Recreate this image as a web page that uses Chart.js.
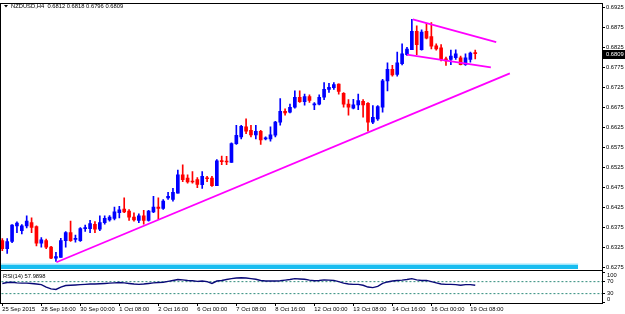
<!DOCTYPE html>
<html>
<head>
<meta charset="utf-8">
<script src="https://cdn.jsdelivr.net/npm/chart.js@4.4.1/dist/chart.umd.min.js"></script>
<style>
  html, body { margin: 0; padding: 0; background: #fff; }
  #wrap { position: relative; width: 625px; height: 314px; }
</style>
</head>
<body>
<div id="wrap"><canvas id="chart" width="625" height="314"></canvas></div>
<script>
// ─── Data (NZDUSD H4) ────────────────────────────────────────────
const opens = [
  0.6341, 0.6321, 0.6339, 0.6378, 0.6366, 0.6378, 0.6386, 0.6376, 0.6335, 0.6341,
  0.6325, 0.6297, 0.6299, 0.6341, 0.6361, 0.6344, 0.6341, 0.6371, 0.6371, 0.6382,
  0.6370, 0.6386, 0.6393, 0.6397, 0.6411, 0.6420, 0.6415, 0.6400, 0.6392, 0.6403,
  0.6392, 0.6413, 0.6425, 0.6422, 0.6448, 0.6444, 0.6460, 0.6506, 0.6498, 0.6489,
  0.6494, 0.6481, 0.6498, 0.6498, 0.6479, 0.6541, 0.6540, 0.6537, 0.6584, 0.6601,
  0.6626, 0.6617, 0.6606, 0.6615, 0.6596, 0.6596, 0.6605, 0.6638, 0.6665, 0.6663,
  0.6675, 0.6700, 0.6689, 0.6702, 0.6681, 0.6683, 0.6700, 0.6720, 0.6724, 0.6733,
  0.6710, 0.6683, 0.6673, 0.6681, 0.6690, 0.6685, 0.6638, 0.6646, 0.6675, 0.6741,
  0.6770, 0.6757, 0.6784, 0.6807, 0.6819, 0.6865, 0.6819, 0.6865, 0.6852, 0.6829,
  0.6824, 0.6796, 0.6795, 0.6799, 0.6799, 0.6782, 0.6795, 0.6812
];
const highs = [
  0.6346, 0.6346, 0.6381, 0.6388, 0.6381, 0.6403, 0.6398, 0.6378, 0.6349, 0.6345,
  0.6327, 0.6312, 0.6347, 0.6364, 0.6390, 0.6355, 0.6374, 0.6380, 0.6392, 0.6389,
  0.6403, 0.6403, 0.6404, 0.6425, 0.6427, 0.6448, 0.6419, 0.6411, 0.6408, 0.6417,
  0.6417, 0.6452, 0.6448, 0.6444, 0.6462, 0.6472, 0.6518, 0.6531, 0.6506, 0.6514,
  0.6499, 0.6514, 0.6502, 0.6502, 0.6544, 0.6553, 0.6552, 0.6586, 0.6630, 0.6630,
  0.6646, 0.6630, 0.6630, 0.6617, 0.6601, 0.6626, 0.6640, 0.6697, 0.6671, 0.6683,
  0.6716, 0.6716, 0.6708, 0.6706, 0.6687, 0.6706, 0.6737, 0.6735, 0.6737, 0.6734,
  0.6712, 0.6694, 0.6695, 0.6708, 0.6694, 0.6687, 0.6679, 0.6679, 0.6745, 0.6786,
  0.6780, 0.6813, 0.6834, 0.6825, 0.6895, 0.6879, 0.6869, 0.6885, 0.6887, 0.6834,
  0.6832, 0.6801, 0.6818, 0.6819, 0.6803, 0.6809, 0.6813, 0.6818
];
const lows = [
  0.6316, 0.6309, 0.6336, 0.6361, 0.6358, 0.6373, 0.6361, 0.6328, 0.6325, 0.6321,
  0.6296, 0.6289, 0.6299, 0.6325, 0.6339, 0.6337, 0.6339, 0.6364, 0.6361, 0.6361,
  0.6366, 0.6382, 0.6390, 0.6393, 0.6398, 0.6411, 0.6392, 0.6390, 0.6386, 0.6382,
  0.6390, 0.6411, 0.6395, 0.6419, 0.6444, 0.6440, 0.6460, 0.6489, 0.6485, 0.6485,
  0.6474, 0.6472, 0.6489, 0.6477, 0.6479, 0.6531, 0.6531, 0.6537, 0.6582, 0.6596,
  0.6609, 0.6601, 0.6596, 0.6582, 0.6593, 0.6590, 0.6601, 0.6630, 0.6655, 0.6661,
  0.6673, 0.6687, 0.6680, 0.6687, 0.6669, 0.6681, 0.6694, 0.6712, 0.6720, 0.6708,
  0.6675, 0.6655, 0.6671, 0.6669, 0.6650, 0.6615, 0.6634, 0.6642, 0.6663, 0.6716,
  0.6753, 0.6753, 0.6781, 0.6805, 0.6819, 0.6807, 0.6818, 0.6846, 0.6821, 0.6818,
  0.6791, 0.6780, 0.6782, 0.6795, 0.6781, 0.6780, 0.6788, 0.6796
];
const closes = [
  0.6321, 0.6339, 0.6380, 0.6385, 0.6378, 0.6390, 0.6374, 0.6335, 0.6343, 0.6325,
  0.6297, 0.6301, 0.6341, 0.6361, 0.6341, 0.6347, 0.6371, 0.6374, 0.6384, 0.6370,
  0.6386, 0.6397, 0.6400, 0.6413, 0.6418, 0.6413, 0.6400, 0.6393, 0.6403, 0.6392,
  0.6415, 0.6425, 0.6422, 0.6440, 0.6452, 0.6462, 0.6506, 0.6494, 0.6488, 0.6488,
  0.6482, 0.6502, 0.6496, 0.6479, 0.6541, 0.6539, 0.6538, 0.6584, 0.6605, 0.6627,
  0.6615, 0.6606, 0.6615, 0.6593, 0.6598, 0.6606, 0.6638, 0.6665, 0.6661, 0.6675,
  0.6700, 0.6689, 0.6702, 0.6692, 0.6683, 0.6700, 0.6720, 0.6725, 0.6732, 0.6715,
  0.6683, 0.6675, 0.6681, 0.6692, 0.6681, 0.6638, 0.6650, 0.6677, 0.6741, 0.6770,
  0.6756, 0.6786, 0.6809, 0.6821, 0.6865, 0.6832, 0.6863, 0.6848, 0.6828, 0.6821,
  0.6795, 0.6791, 0.6803, 0.6809, 0.6782, 0.6799, 0.6811, 0.6809
];
const rsi = [
  64, 67, 68, 66, 65, 65, 64, 62, 60, 52,
  46, 44, 52, 57, 58, 59, 60, 61, 62, 62,
  63, 64, 65, 66, 67, 66, 64, 62, 61, 62,
  64, 66, 67, 68, 71, 74, 77, 76, 74, 73,
  71, 72, 70, 64, 72, 74, 77, 80, 82, 83,
  82, 80, 78, 74, 72, 72, 72, 73, 75, 77,
  80, 79, 78, 75, 73, 74, 76, 75, 74, 70,
  65, 62, 61, 61, 58, 52, 50, 54, 64, 69,
  72, 74, 75, 77, 80, 76, 74, 74, 70, 66,
  62, 61, 61, 60, 58, 60, 60, 58
];

// one time label every 8 bars
const tickLabels = [
  '25 Sep 2015', '28 Sep 16:00', '30 Sep 00:00', '1 Oct 08:00', '2 Oct 16:00',
  '6 Oct 00:00', '7 Oct 08:00', '8 Oct 16:00', '12 Oct 00:00', '13 Oct 08:00',
  '14 Oct 16:00', '16 Oct 00:00', '19 Oct 08:00'
];
const tickEvery = 8;
const priceTicks = [0.6275, 0.6325, 0.6375, 0.6425, 0.6475, 0.6525, 0.6575, 0.6625,
  0.6675, 0.6725, 0.6775, 0.6825, 0.6875, 0.6925];
const rsiTicks = [0, 30, 70, 100];
const rsiLevels = [70, 30];

// drawn objects: [barIndex, price] pairs
const supportLine = [[11.1, 0.6287], [104.1, 0.6760]];
const flagTop = [[84.2, 0.6895], [101.3, 0.6838]];
const flagBottom = [[83.0, 0.6807], [100.2, 0.6775]];
const cyanBand = [[-0.3, 0.6282], [118.1, 0.6282]];
const cyanBandBase = 0.6270;

// ─── Styles ─────────────────────────────────────────────────────
const BULL = '#0000ff';
const BEAR = '#ff0000';
const MAGENTA = '#ff00ff';
const TXT = { family: 'Liberation Sans, Arial, sans-serif', size: 5.8 };

const idx = closes.map((_, i) => i);
const candleColor = idx.map(i => closes[i] >= opens[i] ? BULL : BEAR);
const toXY = pts => pts.map(p => ({ x: p[0], y: p[1] }));

function trendSet(pts) {
  return {
    type: 'line', data: toXY(pts), borderColor: MAGENTA, borderWidth: 1.8,
    pointRadius: 0, fill: false, order: 0, yAxisID: 'y'
  };
}

// frame, header text, RSI labels, last price box
const overlay = {
  id: 'overlay',
  afterDraw(chart) {
    const { ctx, chartArea: a, scales } = chart;
    ctx.save();
    ctx.strokeStyle = '#000';
    ctx.lineWidth = 1;
    ctx.strokeRect(Math.round(a.left) - 0.5, Math.round(a.top) - 0.5,
      Math.round(a.right - a.left) + 1, Math.round(a.bottom - a.top) + 1);
    const sep = Math.round(scales.y.bottom) + 0.5;
    ctx.beginPath(); ctx.moveTo(a.left, sep); ctx.lineTo(a.right, sep); ctx.stroke();

    // header
    ctx.fillStyle = '#000';
    ctx.beginPath(); ctx.moveTo(4, 5); ctx.lineTo(8, 5); ctx.lineTo(6, 7.5); ctx.closePath(); ctx.fill();
    ctx.font = TXT.size + 'px ' + TXT.family;
    ctx.textBaseline = 'middle';
    ctx.textAlign = 'left';
    const last = closes.length - 1;
    const fmt = v => v.toFixed(4);
    ctx.fillText('NZDUSD,H4  ' + [opens[last], highs[last], lows[last], closes[last]].map(fmt).join(' '), 11, 6.5);
    ctx.fillText('RSI(14) ' + '57.9898', 3, 276.5);

    // RSI scale labels, kept inside their pane like the terminal does
    const r = scales.yRsi;
    rsiTicks.forEach(v => {
      const ty = Math.min(Math.max(r.getPixelForValue(v), r.top + 5), r.bottom - 4);
      ctx.fillText(String(v), a.right + 5, ty);
    });

    // current price marker
    const py = Math.round(scales.y.getPixelForValue(closes[last]));
    ctx.fillStyle = '#000';
    ctx.fillRect(a.right + 1, py - 4, 22, 9);
    ctx.fillStyle = '#fff';
    ctx.fillText(fmt(closes[last]), a.right + 4, py + 0.5);
    ctx.restore();
  }
};

new Chart(document.getElementById('chart'), {
  type: 'bar',
  data: {
    datasets: [
      trendSet(supportLine),
      trendSet(flagTop),
      trendSet(flagBottom),
      {
        label: 'body', data: idx.map(i => ({ x: i, y: [opens[i], closes[i]] })),
        backgroundColor: candleColor, barThickness: 3, minBarLength: 1,
        grouped: false, order: 1, yAxisID: 'y'
      },
      {
        label: 'wick', data: idx.map(i => ({ x: i, y: [lows[i], highs[i]] })),
        backgroundColor: candleColor, barThickness: 1,
        grouped: false, order: 2, yAxisID: 'y'
      },
      {
        type: 'line', label: 'band', data: toXY(cyanBand), yAxisID: 'y',
        borderColor: '#9fe6fb', borderWidth: 1.5, backgroundColor: '#18bdf0',
        fill: { value: cyanBandBase }, pointRadius: 0, order: 3
      },
      {
        type: 'line', label: 'RSI', data: idx.map(i => ({ x: i, y: rsi[i] })), yAxisID: 'yRsi',
        borderColor: '#0a0a78', borderWidth: 1.4, pointRadius: 0, fill: false, order: 0
      },
      ...rsiLevels.map(v => ({
        type: 'line', data: [{ x: -1, y: v }, { x: 130, y: v }], yAxisID: 'yRsi',
        borderColor: '#2e8b7a', borderWidth: 1, borderDash: [2, 2],
        pointRadius: 0, fill: false, order: 4
      }))
    ]
  },
  options: {
    responsive: false,
    animation: false,
    layout: { padding: { left: 1, top: 1, right: 0, bottom: 0 } },
    plugins: { legend: { display: false }, tooltip: { enabled: false } },
    scales: {
      x: {
        type: 'linear', min: -0.27, max: 123, offset: false,
        grid: { drawOnChartArea: false, offset: false, tickLength: 3, color: '#000' },
        border: { color: '#000' },
        afterBuildTicks: s => { s.ticks = tickLabels.map((_, k) => ({ value: k * tickEvery })); },
        afterFit: s => { s.height = 11; },
        ticks: {
          autoSkip: false, maxRotation: 0, align: 'start', padding: 0,
          color: '#000', font: TXT,
          callback: (v, k) => tickLabels[k]
        }
      },
      y: {
        position: 'right', stack: 'panes', stackWeight: 269,
        min: 0.62666, max: 0.69324,
        afterBuildTicks: s => { s.ticks = priceTicks.map(v => ({ value: v })); },
        afterFit: s => { s.width = 23; },
        grid: { drawOnChartArea: false, tickLength: 3, color: '#000' },
        border: { color: '#000' },
        ticks: { autoSkip: false, padding: 1, color: '#000', font: TXT, callback: v => v.toFixed(4) }
      },
      yRsi: {
        type: 'linear', position: 'right', stack: 'panes', stackWeight: 33,
        min: -1.3, max: 107.6,
        afterBuildTicks: s => { s.ticks = rsiTicks.map(v => ({ value: v })); },
        afterFit: s => { s.width = 23; },
        grid: { drawOnChartArea: false, tickLength: 3, color: '#000' },
        border: { color: '#000' },
        ticks: { display: false }
      }
    }
  },
  plugins: [overlay]
});
</script>
</body>
</html>
